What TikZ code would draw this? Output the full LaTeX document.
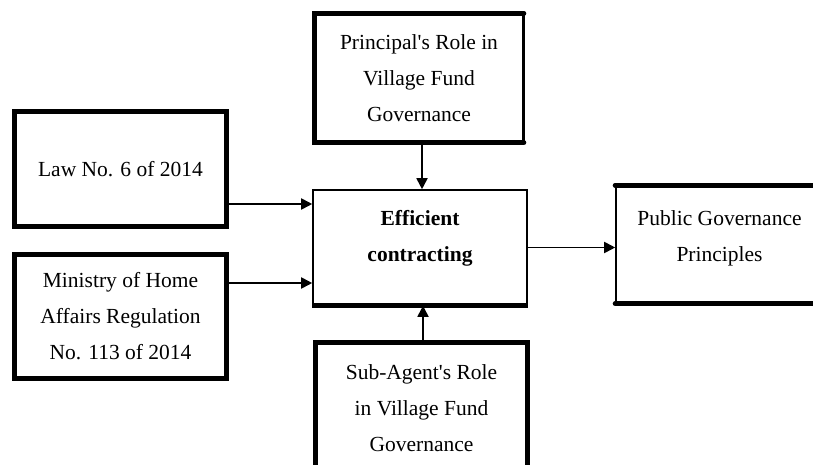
\documentclass[tikz,border=0pt]{standalone}
\usepackage{fontspec}
\setmainfont{Liberation Serif}
\usepackage{tikz}
\usetikzlibrary{arrows.meta}

\begin{document}
\begin{tikzpicture}[x=1pt,y=-1pt,
  box/.style={draw,line width=1.6pt,align=center,inner sep=0pt,
    font=\fontsize{21.5}{36}\selectfont},
  heavy/.style={line width=5pt,line cap=round},
  arr/.style={line width=1.8pt,-{Triangle[length=11pt,width=11pt]}}]
  \useasboundingbox (0,0) rectangle (813,465);
  \clip (0,0) rectangle (813,465);

  \node[box,minimum width=211pt,minimum height=114pt] (law) at (120.5,169) {Law No. 6 of 2014};
  \node[box,minimum width=211pt,minimum height=123pt] (mhar) at (120.5,316.5) {Ministry of Home\\Affairs Regulation\\No. 113 of 2014};
  \node[box,minimum width=208pt,minimum height=128pt] (prin) at (419,78) {Principal\textquotesingle s Role in\\Village Fund\\Governance};
  \node[box,minimum width=214pt,minimum height=115pt,text depth=23pt] (eff) at (420,247.5) {\textbf{Efficient}\\\textbf{contracting}};
  \node[box,minimum width=207pt,minimum height=117pt,text depth=17pt] (pub) at (719.5,244.5) {Public Governance\\Principles};
  \node[box,minimum width=211pt,minimum height=130pt] (sub) at (421.5,408) {Sub-Agent\textquotesingle s Role\\in Village Fund\\Governance};

  \draw[heavy] (law.south west) rectangle (law.north east);
  \draw[heavy] (mhar.south west) rectangle (mhar.north east);
  \draw[heavy] (prin.north east) -- (prin.north west) -- (prin.south west) -- (prin.south east);
  \draw[line width=3pt] (prin.north east) -- (prin.south east);
  \draw[heavy,line cap=butt] (eff.south west) -- (eff.south east);
  \draw[heavy] (pub.north west) -- (pub.north east);
  \draw[heavy] (pub.south west) -- (pub.south east);
  \draw[heavy] (sub.south west) -- (sub.north west) -- (sub.north east) -- (sub.south east);

  \draw[arr] ([yshift=-35pt]law.east) coordinate (l1) -- (l1 -| eff.west);
  \draw[arr] ([yshift=33.5pt]mhar.east) coordinate (m1) -- (m1 -| eff.west);
  \draw[arr] ([xshift=3pt]prin.south) coordinate (p1) -- (p1 |- eff.north);
  \draw[arr] ([xshift=1.5pt]sub.north) coordinate (s1) -- (s1 |- eff.south);
  \draw[arr] (eff.east) -- (eff.east -| pub.west);
\end{tikzpicture}
\end{document}
